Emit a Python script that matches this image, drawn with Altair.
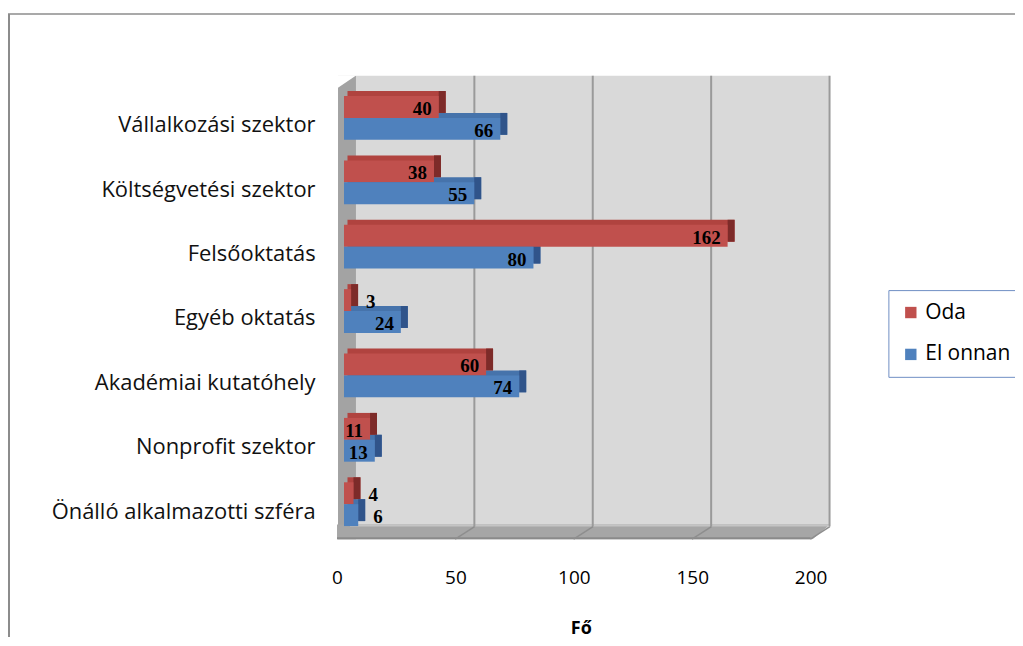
import json
import altair as alt
import pandas as pd

# ---------------- data ----------------
categories = [
    "Vállalkozási szektor",
    "Költségvetési szektor",
    "Felsőoktatás",
    "Egyéb oktatás",
    "Akadémiai kutatóhely",
    "Nonprofit szektor",
    "Önálló alkalmazotti szféra",
]
series = ["Oda", "El onnan"]
oda = [40, 38, 162, 3, 60, 11, 4]
el_onnan = [66, 55, 80, 24, 74, 13, 6]
x_ticks = [0, 50, 100, 150, 200]
grid_values = [50, 100, 150, 200]
x_title = "Fő"

rows = []
for i, c in enumerate(categories):
    for s, vals in enumerate([oda, el_onnan]):
        rows.append({"cat": c, "idx": i, "series": series[s], "s": s, "v": vals[i]})
df = pd.DataFrame(rows)
grid_df = pd.DataFrame({"g": grid_values})
one = alt.Data(values=[{"k": 1}])

# ---------------- style ----------------
W, H = 475, 452
FONT = "Open Sans"
RED, BLUE = "#c0504d", "#4f81bd"
BAR = 0.34
BX = 12  # back-wall x shift

xscale = alt.Scale(domain=[0, 200], nice=False, zero=False)
yscale = alt.Scale(domain=[-0.5, 6.5], nice=False, zero=False, reverse=True)

xaxis = alt.Axis(values=x_ticks, grid=False, domain=False, ticks=False, tickSize=0,
                 labelFlush=False, labelOffset=-7, labelPadding=32, labelFontSize=19,
                 labelFont=FONT, labelColor="#000", title=x_title, titleFont=FONT,
                 titleFontSize=18, titleFontWeight="bold", titleColor="#000",
                 titlePadding=32)
label_expr = json.dumps(categories, ensure_ascii=False) + "[datum.value]"
yaxis = alt.Axis(values=list(range(len(categories))), labelExpr=label_expr, grid=False,
                 domain=False, ticks=False, tickSize=0, labelPadding=29, labelOffset=7,
                 labelFontSize=22, labelFont=FONT, labelColor="#111", title=None,
                 labelLimit=400)


def X(field=None, datum=None):
    if datum is not None:
        return alt.X(datum=datum, type="quantitative", scale=xscale, axis=xaxis)
    return alt.X(field, type="quantitative", scale=xscale, axis=xaxis)


def Y(field=None, datum=None):
    if datum is not None:
        return alt.Y(datum=datum, type="quantitative", scale=yscale, axis=yaxis)
    return alt.Y(field, type="quantitative", scale=yscale, axis=yaxis)


bars_base = alt.Chart(df).transform_calculate(
    x0="0",
    y0=f"datum.idx - {BAR} + datum.s * {BAR}",
).transform_calculate(
    y1=f"datum.y0 + {BAR}",
    ym=f"datum.y0 + {BAR / 2}",
    topcol="datum.s == 0 ? '#b0433f' : '#4673ab'",
    sidecol="datum.s == 0 ? '#7d2b29' : '#30548a'",
)

# 3D walls
back_wall = alt.Chart(one).mark_rect(
    color="#d9d9d9", xOffset=BX, x2Offset=BX, yOffset=-10, y2Offset=-10
).encode(x=X(datum=0), x2=alt.X2(datum=200), y=Y(datum=-0.5), y2=alt.Y2(datum=6.5))

left_wall = alt.Chart(one).mark_rect(
    color="#a3a3a3", xOffset=-6, x2Offset=BX, yOffset=-10, y2Offset=3
).encode(x=X(datum=0), x2=alt.X2(datum=0), y=Y(datum=-0.5), y2=alt.Y2(datum=6.5))

floor = alt.Chart(one).mark_rect(
    color="#a6a6a6", xOffset=-7, x2Offset=BX, yOffset=-12, y2Offset=3
).encode(x=X(datum=0), x2=alt.X2(datum=200), y=Y(datum=6.5), y2=alt.Y2(datum=6.5))

floor_top = alt.Chart(one).mark_rule(
    color="#c4c4c4", strokeWidth=2, xOffset=6, x2Offset=BX, yOffset=-11, y2Offset=-11
).encode(x=X(datum=0), x2=alt.X2(datum=200), y=Y(datum=6.5))

floor_front = alt.Chart(one).mark_rule(
    color="#8a8a8a", strokeWidth=2, xOffset=-7, x2Offset=-7, yOffset=2, y2Offset=2
).encode(x=X(datum=0), x2=alt.X2(datum=200), y=Y(datum=6.5))

cut_br = alt.Chart(one).mark_point(
    shape="M1,-0.75L1.2,-0.75L1.2,0.95L-1,0.95Z", size=400, filled=True, fill="white",
    stroke=None, opacity=1, xOffset=2.5, yOffset=-4.5
).encode(x=X(datum=200), y=Y(datum=6.5))

cut_tl = alt.Chart(one).mark_point(
    shape="M-1.05,-0.7L0.95,-0.7L-1.05,0.65Z", size=400, filled=True, fill="white",
    stroke=None, opacity=1, xOffset=3, yOffset=-3.5
).encode(x=X(datum=0), y=Y(datum=-0.5))

grid_back = alt.Chart(grid_df).mark_rule(
    color="#9a9a9a", strokeWidth=2, xOffset=BX, yOffset=-10, y2Offset=-10
).encode(x=X("g"), y=Y(datum=-0.5), y2=alt.Y2(datum=6.5))

grid_floor = alt.Chart(grid_df).mark_point(
    shape="M1,-0.65L-1,0.65", size=380, filled=False, stroke="#8e8e8e", strokeWidth=1.5,
    opacity=1, xOffset=2.5, yOffset=-3.5
).encode(x=X("g"), y=Y(datum=6.5))

# bars
depth_top = bars_base.mark_rect(xOffset=3.5, x2Offset=7, yOffset=-5, y2Offset=-5).encode(
    x=X("x0"), x2="v", y=Y("y0"), y2="y1", color=alt.Color("topcol:N", scale=None)
)
depth_side = bars_base.mark_rect(x2Offset=7, yOffset=-5, y2Offset=-5).encode(
    x=X("v"), x2="v", y=Y("y0"), y2="y1", color=alt.Color("sidecol:N", scale=None)
)
front = bars_base.mark_rect().encode(
    x=X("x0"), x2="v", y=Y("y0"), y2="y1",
    color=alt.Color(
        "series:N",
        scale=alt.Scale(domain=series, range=[RED, BLUE]),
        legend=alt.Legend(
            title=None, orient="none", legendX=546, legendY=205, direction="vertical",
            symbolType="square", symbolSize=130, symbolStrokeWidth=0,
            labelFont=FONT, labelFontSize=21, labelColor="#000", padding=12,
            rowPadding=20, strokeColor="#6f8fc4", labelOffset=4,
        ),
    ),
)

lbl_in = bars_base.transform_filter("datum.v >= 10").mark_text(
    align="right", baseline="middle", dx=-7, dy=2, font="Liberation Serif",
    fontWeight="bold", fontSize=19, color="#000"
).encode(x=X("v"), y=Y("ym"), text="v:Q")

lbl_out = bars_base.transform_filter("datum.v < 10").mark_text(
    align="left", baseline="middle", dx=15, dy=2, font="Liberation Serif",
    fontWeight="bold", fontSize=19, color="#000"
).encode(x=X("v"), y=Y("ym"), text="v:Q")

# outer frame
frame_left = alt.Chart(one).mark_rule(color="#8c8c8c", strokeWidth=2).encode(
    x=alt.value(-336), y=alt.value(-72), y2=alt.value(H + 101)
)
frame_top = alt.Chart(one).mark_rule(color="#8c8c8c", strokeWidth=1.5).encode(
    x=alt.value(-337), x2=alt.value(W + 199), y=alt.value(-72)
)

chart = alt.layer(
    back_wall, left_wall, floor, floor_top, floor_front, cut_br, cut_tl,
    grid_back, grid_floor, depth_top, depth_side, front, lbl_in, lbl_out,
    frame_left, frame_top,
).properties(
    width=W, height=H,
    autosize=alt.AutoSizeParams(type="none"),
    padding={"left": 337, "top": 77, "right": 198, "bottom": 101},
    background="white",
).configure_view(stroke=None)

chart.save("out.html", embed_options={"renderer": "svg", "actions": False})
